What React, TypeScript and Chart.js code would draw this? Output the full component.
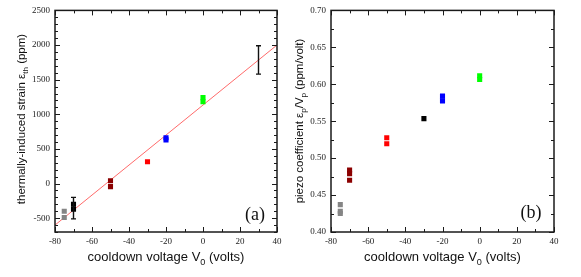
import React, { useEffect, useRef } from 'react';
import { Chart, registerables } from 'chart.js';

Chart.register(...registerables);

// ---------- tick labels ----------
const xTicks = [-80, -60, -40, -20, 0, 20, 40];
const yTicksA = [-500, 0, 500, 1000, 1500, 2000, 2500];
const yTicksB = [0.4, 0.45, 0.5, 0.55, 0.6, 0.65, 0.7];

// ---------- panel (a): thermally-induced strain (ppm) ----------
const grayAX = [-75, -75];
const grayAY = [-400, -490];
const blackAX = [-70, -70];
const blackAY = [-300, -370];
const darkRedAX = [-50, -50];
const darkRedAY = [40, -45];
const redAX = [-30];
const redAY = [315];
const blueAX = [-20, -20];
const blueAY = [660, 630];
const greenAX = [0, 0];
const greenAY = [1240, 1180];
const errAX = [-70, 30];
const errALow = [-510, 1580];
const errAHigh = [-200, 1990];
const fitX = [-80, 40];
const fitY = [-600, 2000];

// ---------- panel (b): piezo coefficient (ppm/volt) ----------
const grayBX = [-75, -75, -75];
const grayBY = [0.437, 0.428, 0.425];
const darkRedBX = [-70, -70, -70];
const darkRedBY = [0.484, 0.479, 0.47];
const redBX = [-50, -50];
const redBY = [0.5275, 0.5195];
const blackBX = [-30];
const blackBY = [0.5535];
const blueBX = [-20, -20];
const blueBY = [0.584, 0.5775];
const greenBX = [0, 0];
const greenBY = [0.6115, 0.6065];

const GRAY = '#858585';
const BLACK = '#000000';
const DARKRED = '#8b0000';
const RED = '#ff0000';
const BLUE = '#0000ff';
const GREEN = '#00ff00';

const SANS = '"Liberation Sans", Arial, sans-serif';
const SERIF = '"Liberation Serif", "Times New Roman", serif';

type Seg = { t: string; sub?: boolean };

function pts(xs: number[], ys: number[]) {
  return xs.map((x, i) => ({ x, y: ys[i] }));
}

function sq(label: string, xs: number[], ys: number[], color: string) {
  return {
    label,
    type: 'scatter' as const,
    data: pts(xs, ys),
    pointStyle: 'rect',
    pointRadius: 3.6,
    pointBackgroundColor: color,
    pointBorderWidth: 0,
    showLine: false,
    order: 1,
  };
}

function drawRich(
  ctx: CanvasRenderingContext2D,
  segs: Seg[],
  x: number,
  y: number,
  size: number,
  rotate: boolean
) {
  ctx.save();
  ctx.translate(x, y);
  if (rotate) ctx.rotate(-Math.PI / 2);
  let total = 0;
  const widths = segs.map((s) => {
    ctx.font = `${s.sub ? size * 0.7 : size}px ${SANS}`;
    const w = ctx.measureText(s.t).width;
    total += w;
    return w;
  });
  let cx = -total / 2;
  ctx.textBaseline = 'alphabetic';
  ctx.textAlign = 'left';
  ctx.fillStyle = '#111';
  segs.forEach((s, i) => {
    ctx.font = `${s.sub ? size * 0.7 : size}px ${SANS}`;
    ctx.fillText(s.t, cx, s.sub ? size * 0.3 : 0);
    cx += widths[i];
  });
  ctx.restore();
}

const framePlugin = {
  id: 'frameTicks',
  afterDatasetsDraw(chart: any, _args: any, opts: any) {
    const { ctx, chartArea: a, scales } = chart;
    const xs = scales.x;
    const ys = scales.y;
    ctx.save();
    // error bars
    const ex: number[] = opts.errX || [];
    ex.forEach((xv: number, i: number) => {
      const px = xs.getPixelForValue(xv);
      const p1 = ys.getPixelForValue(opts.errLow[i]);
      const p2 = ys.getPixelForValue(opts.errHigh[i]);
      ctx.strokeStyle = '#111';
      ctx.lineWidth = 1.4;
      ctx.beginPath();
      ctx.moveTo(px, p1);
      ctx.lineTo(px, p2);
      ctx.moveTo(px - 2.5, p1);
      ctx.lineTo(px + 2.5, p1);
      ctx.moveTo(px - 2.5, p2);
      ctx.lineTo(px + 2.5, p2);
      ctx.stroke();
    });
    // frame
    ctx.strokeStyle = '#1a1a1a';
    ctx.lineWidth = 1.5;
    ctx.strokeRect(a.left, a.top, a.right - a.left, a.bottom - a.top);
    // ticks
    const majorLen = 5;
    const minorLen = 3;
    ctx.lineWidth = 1;
    ctx.beginPath();
    const doAxis = (scale: any, majors: number[], div: number, horiz: boolean) => {
      const step = (majors[1] - majors[0]) / div;
      const vals: { v: number; major: boolean }[] = [];
      let start = majors[0];
      while (start - step >= scale.min - 1e-9) start -= step;
      for (let v = start; v <= scale.max + 1e-9; v += step) {
        const major = majors.some((m) => Math.abs(m - v) < step * 1e-3);
        vals.push({ v, major });
      }
      vals.forEach(({ v, major }) => {
        const p = Math.round(scale.getPixelForValue(v)) + 0.5;
        const len = major ? majorLen : minorLen;
        if (horiz) {
          ctx.moveTo(p, a.bottom);
          ctx.lineTo(p, a.bottom - len);
          ctx.moveTo(p, a.top);
          ctx.lineTo(p, a.top + len);
        } else {
          ctx.moveTo(a.left, p);
          ctx.lineTo(a.left + len, p);
          ctx.moveTo(a.right, p);
          ctx.lineTo(a.right - len, p);
        }
      });
    };
    doAxis(xs, opts.xMajors, opts.xDiv, true);
    doAxis(ys, opts.yMajors, opts.yDiv, false);
    ctx.stroke();
    ctx.restore();
  },
  afterDraw(chart: any, _args: any, opts: any) {
    const { ctx, chartArea: a } = chart;
    drawRich(ctx, opts.xTitle, (a.left + a.right) / 2, 261, 13, false);
    drawRich(ctx, opts.yTitle, opts.yTitleX, opts.yTitleY, 11.5, true);
    ctx.save();
    ctx.font = `18px ${SERIF}`;
    ctx.fillStyle = '#111';
    ctx.textAlign = 'center';
    ctx.textBaseline = 'alphabetic';
    ctx.fillText(opts.panelLabel, opts.panelX, opts.panelY);
    ctx.restore();
  },
};

function makeOptions(
  yMin: number,
  yMax: number,
  yTicks: number[],
  yFmt: (v: number) => string,
  areaLeft: number,
  canvasW: number,
  areaRight: number,
  plug: any
) {
  return {
    responsive: false,
    animation: false as const,
    devicePixelRatio: 1,
    layout: { padding: { left: 0, right: canvasW - areaRight, top: 10, bottom: 0 } },
    plugins: {
      legend: { display: false },
      tooltip: { enabled: false },
      frameTicks: plug,
    },
    scales: {
      x: {
        type: 'linear' as const,
        min: -80,
        max: 40,
        grid: { display: false, drawTicks: false },
        border: { display: false },
        afterBuildTicks: (s: any) => {
          s.ticks = xTicks.map((v) => ({ value: v }));
        },
        afterFit: (s: any) => {
          s.height = 45;
        },
        ticks: {
          padding: 4,
          color: '#222',
          font: { family: SERIF, size: 9 },
          maxRotation: 0,
          callback: (v: any) => String(v),
        },
      },
      y: {
        type: 'linear' as const,
        min: yMin,
        max: yMax,
        grid: { display: false, drawTicks: false },
        border: { display: false },
        afterBuildTicks: (s: any) => {
          s.ticks = yTicks.map((v) => ({ value: v }));
        },
        afterFit: (s: any) => {
          s.width = areaLeft;
        },
        ticks: {
          padding: 5,
          color: '#222',
          font: { family: SERIF, size: 9 },
          callback: (v: any) => yFmt(Number(v)),
        },
      },
    },
  };
}

export default function App() {
  const refA = useRef<HTMLCanvasElement>(null);
  const refB = useRef<HTMLCanvasElement>(null);

  useEffect(() => {
    const chartA = new Chart(refA.current as HTMLCanvasElement, {
      type: 'scatter',
      data: {
        datasets: [
          {
            label: 'fit',
            type: 'line' as const,
            data: pts(fitX, fitY),
            borderColor: '#ff6a6a',
            borderWidth: 1,
            pointRadius: 0,
            fill: false,
            order: 10,
          } as any,
          sq('gray', grayAX, grayAY, GRAY),
          sq('black', blackAX, blackAY, BLACK),
          sq('darkred', darkRedAX, darkRedAY, DARKRED),
          sq('red', redAX, redAY, RED),
          sq('blue', blueAX, blueAY, BLUE),
          sq('green', greenAX, greenAY, GREEN),
        ],
      },
      options: makeOptions(-700, 2500, yTicksA, (v) => String(v), 55, 290, 277, {
        errX: errAX,
        errLow: errALow,
        errHigh: errAHigh,
        xMajors: xTicks,
        xDiv: 2,
        yMajors: yTicksA,
        yDiv: 5,
        xTitle: [{ t: 'cooldown voltage V' }, { t: '0', sub: true }, { t: ' (volts)' }],
        yTitle: [{ t: 'thermally-induced strain ε' }, { t: 'th', sub: true }, { t: ' (ppm)' }],
        yTitleX: 24.5,
        yTitleY: 119,
        panelLabel: '(a)',
        panelX: 255,
        panelY: 219.5,
      }) as any,
      plugins: [framePlugin],
    });

    const chartB = new Chart(refB.current as HTMLCanvasElement, {
      type: 'scatter',
      data: {
        datasets: [
          sq('gray', grayBX, grayBY, GRAY),
          sq('darkred', darkRedBX, darkRedBY, DARKRED),
          sq('red', redBX, redBY, RED),
          sq('black', blackBX, blackBY, BLACK),
          sq('blue', blueBX, blueBY, BLUE),
          sq('green', greenBX, greenBY, GREEN),
        ],
      },
      options: makeOptions(0.4, 0.7, yTicksB, (v) => v.toFixed(2), 41, 291, 264, {
        errX: [],
        errLow: [],
        errHigh: [],
        xMajors: xTicks,
        xDiv: 2,
        yMajors: yTicksB,
        yDiv: 2,
        xTitle: [{ t: 'cooldown voltage V' }, { t: '0', sub: true }, { t: ' (volts)' }],
        yTitle: [
          { t: 'piezo coefficient ε' },
          { t: 'p', sub: true },
          { t: '/V' },
          { t: 'p', sub: true },
          { t: ' (ppm/volt)' },
        ],
        yTitleX: 12.5,
        yTitleY: 121,
        panelLabel: '(b)',
        panelX: 241,
        panelY: 217.5,
      }) as any,
      plugins: [framePlugin],
    });

    return () => {
      chartA.destroy();
      chartB.destroy();
    };
  }, []);

  return (
    <div
      style={{
        position: 'absolute',
        left: 0,
        top: 0,
        width: 581,
        height: 277,
        background: '#ffffff',
        overflow: 'hidden',
      }}
    >
      <canvas
        ref={refA}
        width={290}
        height={277}
        style={{ position: 'absolute', left: 0, top: 0, width: 290, height: 277 }}
      />
      <canvas
        ref={refB}
        width={291}
        height={277}
        style={{ position: 'absolute', left: 290, top: 0, width: 291, height: 277 }}
      />
    </div>
  );
}
